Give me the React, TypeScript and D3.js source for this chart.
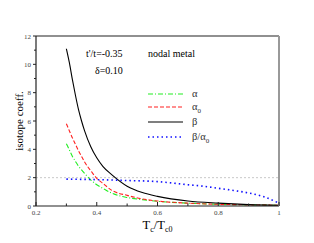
import React, { useEffect, useRef } from "react";
import * as d3 from "d3";

// values
const tcRatio = [0.3, 0.31, 0.32, 0.33, 0.34, 0.35, 0.36, 0.38, 0.4, 0.42, 0.45, 0.5, 0.55, 0.6, 0.7, 0.8, 0.9, 1.0];
const alpha = [4.4, 3.95, 3.5, 3.15, 2.8, 2.55, 2.3, 1.85, 1.5, 1.25, 0.9, 0.6, 0.45, 0.33, 0.2, 0.12, 0.08, 0.05];
const alpha0 = [5.8, 5.3, 4.8, 4.35, 3.9, 3.5, 3.1, 2.5, 1.95, 1.6, 1.1, 0.75, 0.5, 0.35, 0.2, 0.12, 0.08, 0.05];
const beta = [11.1, 10.1, 8.9, 7.8, 6.8, 6.0, 5.3, 4.2, 3.4, 2.8, 2.2, 1.4, 0.95, 0.68, 0.35, 0.2, 0.1, 0.05];

const ratioX = [0.3, 0.4, 0.5, 0.6, 0.65, 0.7, 0.75, 0.8, 0.85, 0.9, 0.95, 1.0];
const betaOverAlpha0 = [1.9, 1.86, 1.8, 1.72, 1.62, 1.5, 1.4, 1.25, 1.1, 0.92, 0.65, 0.2];

const xTicks = [0.2, 0.4, 0.6, 0.8, 1];
const xMinor = [0.3, 0.5, 0.7, 0.9];
const yTicks = [0, 2, 4, 6, 8, 10, 12];
const yMinor = [1, 3, 5, 7, 9, 11];

const series = [
  { name: "α", sub: "", xs: tcRatio, ys: alpha, color: "#22ee22", dash: "5,2,1,2", w: 1.1 },
  { name: "α", sub: "0", xs: tcRatio, ys: alpha0, color: "#ff2020", dash: "4,2", w: 1.1 },
  { name: "β", sub: "", xs: tcRatio, ys: beta, color: "#000000", dash: "", w: 1.1 },
  { name: "β/α", sub: "0", xs: ratioX, ys: betaOverAlpha0, color: "#1010ff", dash: "1.5,3", w: 1.6 }
];

const FONT = "'Liberation Serif', 'Times New Roman', serif";

const App = () => {
  const svgRef = useRef<SVGSVGElement>(null);

  useEffect(() => {
    const margin = { top: 36, right: 35, bottom: 37, left: 36 };
    const W = 314;
    const H = 243;
    const width = W - margin.left - margin.right;
    const height = H - margin.top - margin.bottom;

    const svg = d3.select(svgRef.current);
    svg.selectAll("*").remove();

    const x = d3.scaleLinear().domain([0.2, 1]).range([0, width]);
    const y = d3.scaleLinear().domain([0, 12]).range([height, 0]);

    const g = svg.append("g").attr("transform", `translate(${margin.left},${margin.top})`);

    // reference line at 2
    g.append("line")
      .attr("x1", 0).attr("x2", width)
      .attr("y1", y(2)).attr("y2", y(2))
      .attr("stroke", "#bbb").attr("stroke-width", 0.8)
      .attr("stroke-dasharray", "2,2");

    // curves
    const line = d3.line<[number, number]>()
      .x(d => x(d[0]))
      .y(d => y(d[1]))
      .curve(d3.curveMonotoneX);

    series.forEach(s => {
      const pts = s.xs.map((v, i) => [v, s.ys[i]] as [number, number]);
      g.append("path")
        .attr("d", line(pts))
        .attr("fill", "none")
        .attr("stroke", s.color)
        .attr("stroke-width", s.w)
        .attr("stroke-dasharray", s.dash);
    });

    // frame
    g.append("line").attr("x1", 0).attr("x2", width).attr("y1", 0).attr("y2", 0)
      .attr("stroke", "#222").attr("stroke-width", 1.2);
    g.append("line").attr("x1", 0).attr("x2", width).attr("y1", height).attr("y2", height)
      .attr("stroke", "#222").attr("stroke-width", 1.2);
    g.append("line").attr("x1", 0).attr("x2", 0).attr("y1", 0).attr("y2", height)
      .attr("stroke", "#222").attr("stroke-width", 1.2);
    g.append("line").attr("x1", width).attr("x2", width).attr("y1", 0).attr("y2", height)
      .attr("stroke", "#999").attr("stroke-width", 2);

    // x ticks (inward)
    xTicks.forEach(t => {
      g.append("line").attr("x1", x(t)).attr("x2", x(t))
        .attr("y1", height).attr("y2", height - 4).attr("stroke", "#222");
      g.append("text").attr("x", x(t)).attr("y", height + 9)
        .attr("text-anchor", "middle").style("font-family", FONT)
        .attr("font-size", 7).attr("fill", "#444").text(t === 1 ? "1" : t.toFixed(1));
    });
    xMinor.forEach(t => {
      g.append("line").attr("x1", x(t)).attr("x2", x(t))
        .attr("y1", height).attr("y2", height - 2.5).attr("stroke", "#222");
    });

    // y ticks
    yTicks.forEach(t => {
      g.append("line").attr("x1", -3).attr("x2", 0)
        .attr("y1", y(t)).attr("y2", y(t)).attr("stroke", "#222");
      g.append("text").attr("x", -5).attr("y", y(t) + 2.5)
        .attr("text-anchor", "end").style("font-family", FONT)
        .attr("font-size", 7).attr("fill", "#444").text(t);
    });
    yMinor.forEach(t => {
      g.append("line").attr("x1", -2).attr("x2", 0)
        .attr("y1", y(t)).attr("y2", y(t)).attr("stroke", "#222");
    });

    // axis titles
    svg.append("text")
      .attr("transform", `translate(23,${margin.top + height / 2}) rotate(-90)`)
      .attr("text-anchor", "middle").style("font-family", FONT)
      .attr("font-size", 11).text("isotope coeff.");

    const xl = svg.append("text")
      .attr("x", margin.left + width / 2).attr("y", 229)
      .attr("text-anchor", "middle").style("font-family", FONT).attr("font-size", 12.5);
    xl.append("tspan").text("T");
    xl.append("tspan").attr("font-size", 8).attr("dy", 3).text("c");
    xl.append("tspan").attr("dy", -3).text("/T");
    xl.append("tspan").attr("font-size", 8).attr("dy", 3).text("c0");

    // annotations
    svg.append("text").attr("x", 86).attr("y", 57)
      .style("font-family", FONT).attr("font-size", 10).text("t'/t=-0.35");
    svg.append("text").attr("x", 95).attr("y", 74)
      .style("font-family", FONT).attr("font-size", 10).text("δ=0.10");
    svg.append("text").attr("x", 148).attr("y", 57)
      .style("font-family", FONT).attr("font-size", 10).text("nodal metal");

    // legend
    const legendY = [94, 107, 122, 137];
    series.forEach((s, i) => {
      svg.append("line")
        .attr("x1", 148).attr("x2", 183)
        .attr("y1", legendY[i]).attr("y2", legendY[i])
        .attr("stroke", s.color)
        .attr("stroke-width", s.w)
        .attr("stroke-dasharray", s.dash);
      const t = svg.append("text").attr("x", 192).attr("y", legendY[i] + 3)
        .style("font-family", FONT).attr("font-size", 10.5).attr("fill", "#333");
      t.append("tspan").text(s.name);
      if (s.sub) t.append("tspan").attr("font-size", 7).attr("dy", 3).text(s.sub);
    });
  }, []);

  return (
    <svg ref={svgRef} width={314} height={243}
      style={{ position: "absolute", left: 0, top: 0, background: "#fff" }} />
  );
};

export default App;
